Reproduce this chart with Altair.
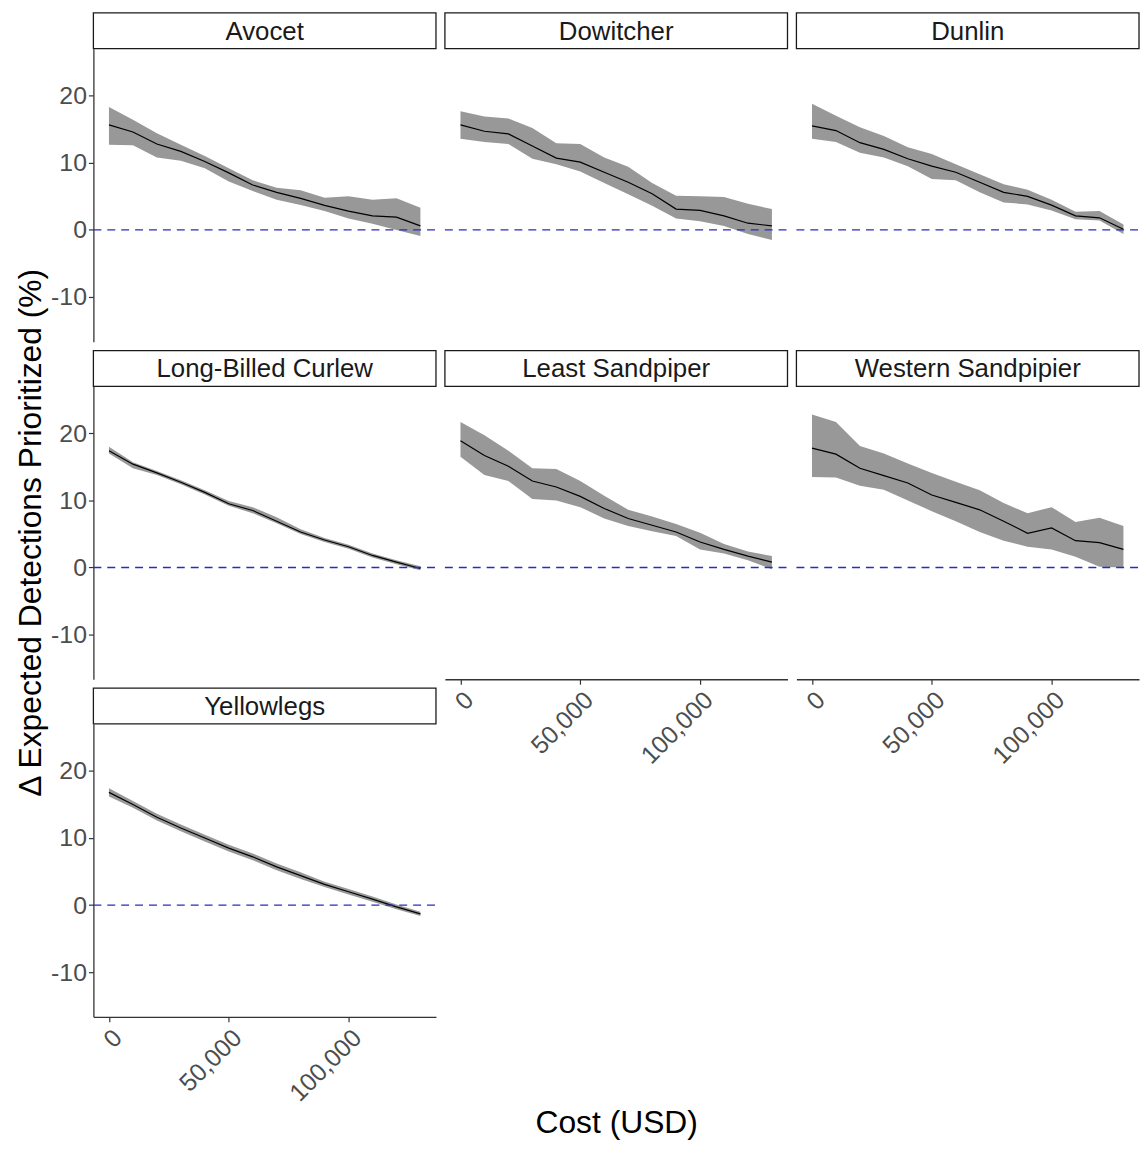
import altair as alt
import pandas as pd

# ---------------- data ----------------
cost = [0, 10000, 20000, 30000, 40000, 50000, 60000, 70000,
        80000, 90000, 100000, 110000, 120000, 130000]

x_ticks = [0, 50000, 100000]
y_ticks = [-10, 0, 10, 20]

avocet_mean = [15.65, 14.6, 12.8, 11.7, 10.2, 8.5, 6.7, 5.6, 4.7, 3.65, 2.8, 2.1, 1.9, 0.6]
avocet_upper = [18.3, 16.4, 14.4, 12.7, 11.0, 9.2, 7.4, 6.3, 5.9, 4.8, 5.0, 4.5, 4.7, 3.3]
avocet_lower = [12.7, 12.6, 10.8, 10.3, 9.2, 7.2, 5.8, 4.5, 3.7, 2.8, 1.7, 0.9, 0.0, -0.9]

dowitcher_mean = [15.65, 14.7, 14.3, 12.5, 10.7, 10.1, 8.6, 7.1, 5.4, 3.1, 2.9, 2.1, 1.0, 0.6]
dowitcher_upper = [17.7, 16.9, 16.6, 15.2, 12.9, 12.8, 10.8, 9.4, 7.0, 5.1, 5.0, 4.9, 3.9, 3.1]
dowitcher_lower = [13.6, 13.1, 12.8, 10.6, 9.8, 8.7, 7.0, 5.3, 3.6, 1.7, 1.3, 0.6, -0.6, -1.5]

dunlin_mean = [15.5, 14.8, 13.0, 12.0, 10.6, 9.5, 8.6, 7.1, 5.6, 5.0, 3.7, 2.1, 1.8, 0.1]
dunlin_upper = [18.8, 17.0, 15.3, 14.0, 12.3, 11.3, 9.8, 8.3, 6.8, 6.0, 4.5, 2.7, 2.8, 0.8]
dunlin_lower = [13.6, 13.1, 11.5, 10.8, 9.5, 7.6, 7.4, 5.6, 4.1, 3.8, 2.9, 1.6, 1.4, -0.6]

curlew_mean = [17.4, 15.4, 14.1, 12.7, 11.2, 9.5, 8.5, 6.9, 5.3, 4.1, 3.1, 1.8, 0.8, -0.15]
curlew_upper = [18.0, 15.7, 14.4, 13.0, 11.5, 9.9, 9.0, 7.5, 5.7, 4.4, 3.4, 2.1, 1.1, 0.2]
curlew_lower = [17.0, 14.8, 13.8, 12.4, 10.9, 9.2, 8.1, 6.6, 5.0, 3.8, 2.8, 1.5, 0.5, -0.4]

least_mean = [18.9, 16.7, 15.1, 12.9, 12.0, 10.6, 8.8, 7.3, 6.3, 5.3, 3.8, 2.7, 1.7, 0.8]
least_upper = [21.7, 19.7, 17.4, 14.8, 14.7, 12.9, 10.7, 8.6, 7.6, 6.5, 5.2, 3.5, 2.4, 1.7]
least_lower = [16.5, 13.8, 12.9, 10.2, 10.0, 9.0, 7.3, 6.2, 5.4, 4.7, 2.7, 2.1, 1.1, -0.25]

western_mean = [17.8, 16.9, 14.8, 13.7, 12.6, 10.8, 9.7, 8.6, 6.9, 5.1, 5.9, 4.0, 3.7, 2.7]
western_upper = [22.8, 21.7, 18.1, 17.0, 15.5, 14.1, 12.8, 11.5, 9.6, 8.1, 9.0, 6.8, 7.4, 6.2]
western_lower = [13.5, 13.4, 12.2, 11.6, 10.0, 8.4, 6.9, 5.3, 4.0, 3.1, 2.7, 1.6, 0.1, 0.0]

yellowlegs_mean = [16.8, 15.0, 13.1, 11.5, 10.0, 8.5, 7.2, 5.7, 4.4, 3.1, 2.0, 0.9, -0.25, -1.3]
yellowlegs_upper = [17.4, 15.5, 13.6, 12.0, 10.5, 9.0, 7.7, 6.2, 4.9, 3.5, 2.4, 1.3, 0.1, -1.0]
yellowlegs_lower = [16.2, 14.5, 12.6, 11.0, 9.5, 8.0, 6.7, 5.2, 3.9, 2.7, 1.6, 0.5, -0.6, -1.6]

y_title = "Δ Expected Detections Prioritized (%)"
x_title = "Cost (USD)"

# ---------------- styling ----------------
FONT = "Liberation Sans"
W, H = 345, 295
STRIP = 36
ROW_GAP = 9
X_DOMAIN = [-6500, 136500]
Y_DOMAIN = [-16.65, 27.0]
LABEL_GRAY = "#4D4D4D"
AXIS_COL = "#333333"
MINUS = "\u2212"


def frame(mean, lower, upper):
    return pd.DataFrame({"cost": cost, "mean": mean, "lower": lower, "upper": upper})


def panel(name, df, show_x=False, show_y=False, x_title_here=False, y_title_here=False):
    xs = alt.Scale(domain=X_DOMAIN, nice=False, zero=False)
    ys = alt.Scale(domain=Y_DOMAIN, nice=False, zero=False)

    if show_x:
        xa_kwargs = dict(values=x_ticks, format=",.0f", labelAngle=-45, labelAlign="right",
                         labelBaseline="top", labelFontSize=25, labelColor=LABEL_GRAY,
                         labelFont=FONT, labelFlush=False, labelOverlap=False,
                         tickSize=5, tickColor=AXIS_COL, tickWidth=1.2, labelPadding=3,
                         domainColor=AXIS_COL, domainWidth=1.3, grid=False)
        if x_title_here:
            xa_kwargs.update(title=x_title, titleFontSize=32, titleFont=FONT,
                             titleFontWeight="normal", titleColor="black",
                             titleY=446, titleBaseline="middle")
        else:
            xa_kwargs.update(title=None)
        x_axis = alt.Axis(**xa_kwargs)
    else:
        x_axis = None

    if show_y:
        y_axis = alt.Axis(values=y_ticks, labelFontSize=25, labelColor=LABEL_GRAY, labelFont=FONT,
                          labelExpr="replace(datum.label, '" + MINUS + "', '-')",
                          tickSize=5, tickColor=AXIS_COL, tickWidth=1.2, labelPadding=2,
                          domainColor=AXIS_COL, domainWidth=1.3, grid=False, title=None)
    else:
        y_axis = None

    band = alt.Chart(df).mark_area(color="#989898", opacity=1).encode(
        x=alt.X("cost:Q", scale=xs, axis=x_axis),
        y=alt.Y("lower:Q", scale=ys, axis=y_axis),
        y2="upper:Q",
    )
    line = alt.Chart(df).mark_line(color="black", strokeWidth=1.2).encode(
        x=alt.X("cost:Q", scale=xs, axis=x_axis),
        y=alt.Y("mean:Q", scale=ys, axis=y_axis),
    )
    zero = alt.Chart(alt.Data(values=[{"z": 0}])).mark_rule(
        color="#2A2AC4", strokeDash=[8, 6], strokeWidth=1.4
    ).encode(
        y=alt.Y("z:Q", scale=ys, axis=y_axis),
        x=alt.value(0), x2=alt.value(W),
    )
    strip_data = alt.Data(values=[{"label": name}])
    strip_box = alt.Chart(strip_data).mark_rect(
        fill="white", stroke="#1A1A1A", strokeWidth=1.3
    ).encode(x=alt.value(0), x2=alt.value(W), y=alt.value(-STRIP), y2=alt.value(0))
    strip_text = alt.Chart(strip_data).mark_text(
        fontSize=26, font=FONT, color="#1A1A1A", baseline="middle", align="center"
    ).encode(x=alt.value(W / 2), y=alt.value(-STRIP / 2 + 1), text="label:N")

    layers = [band, line, zero, strip_box, strip_text]
    if y_title_here:
        ytxt = alt.Chart(alt.Data(values=[{"t": y_title}])).mark_text(
            angle=270, fontSize=32, font=FONT, color="black", baseline="middle", align="center"
        ).encode(text="t:N", x=alt.value(-63), y=alt.value(H / 2))
        layers.append(ytxt)

    return alt.layer(*layers).properties(width=W, height=H)


p_avocet = panel("Avocet", frame(avocet_mean, avocet_lower, avocet_upper), show_y=True)
p_dow = panel("Dowitcher", frame(dowitcher_mean, dowitcher_lower, dowitcher_upper))
p_dunlin = panel("Dunlin", frame(dunlin_mean, dunlin_lower, dunlin_upper))
p_curlew = panel("Long-Billed Curlew", frame(curlew_mean, curlew_lower, curlew_upper),
                 show_y=True, y_title_here=True)
p_least = panel("Least Sandpiper", frame(least_mean, least_lower, least_upper),
                show_x=True, x_title_here=True)
p_western = panel("Western Sandpipier", frame(western_mean, western_lower, western_upper),
                  show_x=True)
p_yellow = panel("Yellowlegs", frame(yellowlegs_mean, yellowlegs_lower, yellowlegs_upper),
                 show_x=True, show_y=True)

col_spacing = STRIP + ROW_GAP
col1 = alt.vconcat(p_avocet, p_curlew, p_yellow, spacing=col_spacing, bounds="flush")
col2 = alt.vconcat(p_dow, p_least, spacing=col_spacing, bounds="flush")
col3 = alt.vconcat(p_dunlin, p_western, spacing=col_spacing, bounds="flush")

chart = alt.hconcat(col1, col2, col3, spacing=7).properties(
    padding={"left": 6, "top": 0, "right": 0, "bottom": 0}
).configure(font=FONT).configure_view(strokeWidth=0)

chart.save("out.html", embed_options={"renderer": "svg", "actions": False})
